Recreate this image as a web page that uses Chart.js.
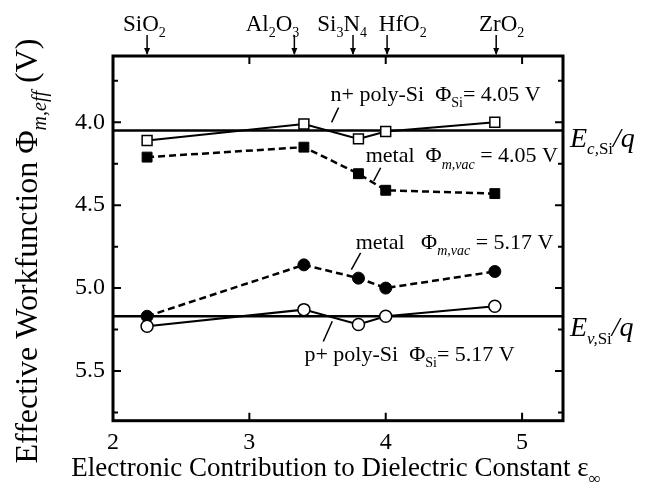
<!DOCTYPE html>
<html>
<head>
<meta charset="utf-8">
<script src="https://cdn.jsdelivr.net/npm/chart.js@4.4.1/dist/chart.umd.min.js"></script>
<style>
  html, body { margin: 0; padding: 0; background: #fff; }
  #wrap { width: 649px; height: 486px; }
</style>
</head>
<body>
<div id="wrap"><canvas id="chart"></canvas></div>
<script>
// dielectric constant (electronic part) of each oxide
const eps = [2.25, 3.4, 3.8, 4.0, 4.8];
// effective workfunctions (V)
const nPoly = [4.11, 4.01, 4.10, 4.055, 4.00];
const metalN = [4.21, 4.15, 4.31, 4.41, 4.43];
const metalP = [5.17, 4.86, 4.94, 5.00, 4.90];
const pPoly = [5.23, 5.13, 5.22, 5.17, 5.11];
const ecLevel = 4.05;
const evLevel = 5.17;
const oxides = ['SiO_2', 'Al_2O_3', 'Si_3N_4', 'HfO_2', 'ZrO_2'];
const oxideArrowX = [2.25, 3.33, 3.76, 4.01, 4.81];
const oxideLabelX = [2.23, 3.17, 3.68, 4.125, 4.85];
const xTicks = [2, 3, 4, 5];
const yTicks = [4.0, 4.5, 5.0, 5.5];
const yMinor = [3.75, 4.25, 4.75, 5.25, 5.75];

const SERIF = "'Liberation Serif', 'DejaVu Serif', serif";

function pts(ys) {
    return eps.map((x, i) => ({ x: x, y: ys[i] }));
}

// draw text made of parts: {t, sub, it}
function rich(ctx, parts, x, y, size, align) {
    const subSize = Math.round(size * 0.62);
    const fontOf = p => (p.it ? 'italic ' : '') + (p.sub ? subSize : size) + 'px ' + SERIF;
    let w = 0;
    parts.forEach(p => { ctx.font = fontOf(p); w += ctx.measureText(p.t).width; });
    let cx = align === 'center' ? x - w / 2 : (align === 'right' ? x - w : x);
    ctx.textAlign = 'left';
    ctx.textBaseline = 'alphabetic';
    parts.forEach(p => {
        ctx.font = fontOf(p);
        ctx.fillText(p.t, cx, p.sub ? y + size * 0.28 : y);
        cx += ctx.measureText(p.t).width;
    });
    return w;
}

function formula(s) {
    const parts = [];
    s.split(/_(\d)/).forEach((t, i) => { if (t) parts.push({ t: t, sub: i % 2 === 1 }); });
    return parts;
}

const decor = {
    id: 'decor',
    afterDraw(chart) {
        const ctx = chart.ctx;
        const a = chart.chartArea;
        const xs = chart.scales.x, ys = chart.scales.y;
        const px = v => xs.getPixelForValue(v);
        const py = v => ys.getPixelForValue(v);
        ctx.save();
        ctx.strokeStyle = '#000';
        ctx.fillStyle = '#000';

        // frame
        ctx.lineWidth = 3;
        ctx.strokeRect(a.left, a.top, a.right - a.left, a.bottom - a.top);

        // inward ticks
        ctx.lineWidth = 2;
        ctx.beginPath();
        xTicks.forEach(v => {
            ctx.moveTo(px(v), a.bottom); ctx.lineTo(px(v), a.bottom - 8);
            ctx.moveTo(px(v), a.top); ctx.lineTo(px(v), a.top + 8);
        });
        yTicks.forEach(v => {
            ctx.moveTo(a.left, py(v)); ctx.lineTo(a.left + 8, py(v));
            ctx.moveTo(a.right, py(v)); ctx.lineTo(a.right - 8, py(v));
        });
        yMinor.forEach(v => {
            ctx.moveTo(a.left, py(v)); ctx.lineTo(a.left + 5, py(v));
            ctx.moveTo(a.right, py(v)); ctx.lineTo(a.right - 5, py(v));
        });
        ctx.stroke();

        // oxide labels with arrows on top
        oxides.forEach((name, i) => {
            rich(ctx, formula(name), px(oxideLabelX[i]), 31, 23, 'center');
            const x = px(oxideArrowX[i]);
            ctx.lineWidth = 1.5;
            ctx.beginPath();
            ctx.moveTo(x, 35); ctx.lineTo(x, a.top - 2);
            ctx.stroke();
            ctx.beginPath();
            ctx.moveTo(x - 3, a.top - 8); ctx.lineTo(x + 3, a.top - 8); ctx.lineTo(x, a.top - 1);
            ctx.closePath();
            ctx.fill();
        });

        // annotations
        const notes = [
            { at: [3.595, 3.87], parts: [{ t: 'n+ poly-Si  Φ' }, { t: 'Si', sub: true }, { t: '= 4.05 V' }], lead: [3.654, 3.911, 3.603, 4.0] },
            { at: [3.853, 4.242], parts: [{ t: 'metal  Φ' }, { t: 'm,vac', sub: true, it: true }, { t: ' = 4.05 V' }], lead: [3.963, 4.274, 3.912, 4.353] },
            { at: [3.78, 4.765], parts: [{ t: 'metal   Φ' }, { t: 'm,vac', sub: true, it: true }, { t: ' = 5.17 V' }], lead: [3.816, 4.788, 3.748, 4.888] },
            { at: [3.404, 5.438], parts: [{ t: 'p+ poly-Si  Φ' }, { t: 'Si', sub: true }, { t: '= 5.17 V' }], lead: [3.608, 5.2, 3.542, 5.322] }
        ];
        notes.forEach(n => {
            rich(ctx, n.parts, px(n.at[0]), py(n.at[1]), 22, 'left');
            ctx.lineWidth = 1.5;
            ctx.beginPath();
            ctx.moveTo(px(n.lead[0]), py(n.lead[1]));
            ctx.lineTo(px(n.lead[2]), py(n.lead[3]));
            ctx.stroke();
        });

        // band edge labels
        rich(ctx, [{ t: 'E', it: true }, { t: 'c,', sub: true, it: true }, { t: 'Si', sub: true }, { t: '/', it: true }, { t: 'q', it: true }], a.right + 7, py(ecLevel) + 16, 28, 'left');
        rich(ctx, [{ t: 'E', it: true }, { t: 'v,', sub: true, it: true }, { t: 'Si', sub: true }, { t: '/', it: true }, { t: 'q', it: true }], a.right + 7, py(evLevel) + 20, 28, 'left');

        // axis titles
        rich(ctx, [{ t: 'Electronic Contribution to Dielectric Constant ε' }, { t: '∞', sub: true }], 336, 476, 27, 'center');
        ctx.save();
        ctx.translate(37, 251);
        ctx.rotate(-Math.PI / 2);
        rich(ctx, [{ t: 'Effective Workfunction Φ' }, { t: 'm,eff', sub: true, it: true }, { t: ' (V)' }], 0, 0, 32, 'center');
        ctx.restore();

        ctx.restore();
    }
};

const tickFont = { family: SERIF, size: 24 };

new Chart(document.getElementById('chart'), {
    type: 'scatter',
    data: {
        datasets: [
            {
                label: 'n+ poly-Si', data: pts(nPoly), showLine: true,
                borderColor: '#000', borderWidth: 2, pointStyle: 'rect', pointRadius: 7,
                pointBackgroundColor: '#fff', pointBorderColor: '#000', pointBorderWidth: 1.5, order: 1
            },
            {
                label: 'metal 4.05', data: pts(metalN), showLine: true, borderDash: [7, 4],
                borderColor: '#000', borderWidth: 2.5, pointStyle: 'rect', pointRadius: 7,
                pointBackgroundColor: '#000', pointBorderColor: '#000', pointBorderWidth: 1, order: 2
            },
            {
                label: 'metal 5.17', data: pts(metalP), showLine: true, borderDash: [7, 4],
                borderColor: '#000', borderWidth: 2.5, pointStyle: 'circle', pointRadius: 6,
                pointBackgroundColor: '#000', pointBorderColor: '#000', pointBorderWidth: 1, order: 3
            },
            {
                label: 'p+ poly-Si', data: pts(pPoly), showLine: true,
                borderColor: '#000', borderWidth: 2, pointStyle: 'circle', pointRadius: 6,
                pointBackgroundColor: '#fff', pointBorderColor: '#000', pointBorderWidth: 1.5, order: 0
            },
            {
                label: 'Ec', data: [{ x: 2, y: ecLevel }, { x: 5.3, y: ecLevel }], showLine: true,
                borderColor: '#000', borderWidth: 2.5, pointRadius: 0, order: 10
            },
            {
                label: 'Ev', data: [{ x: 2, y: evLevel }, { x: 5.3, y: evLevel }], showLine: true,
                borderColor: '#000', borderWidth: 2.5, pointRadius: 0, order: 10
            }
        ]
    },
    options: {
        responsive: true,
        maintainAspectRatio: false,
        animation: false,
        layout: { padding: { top: 56, right: 86, left: 0, bottom: 0 } },
        plugins: { legend: { display: false }, tooltip: { enabled: false } },
        scales: {
            x: {
                type: 'linear', min: 2, max: 5.3,
                grid: { display: false, drawTicks: false },
                border: { display: false },
                ticks: { font: tickFont, color: '#000', padding: 8, maxRotation: 0 },
                afterBuildTicks: s => { s.ticks = xTicks.map(v => ({ value: v })); },
                afterFit: s => { s.height = 65.3; }
            },
            y: {
                type: 'linear', min: 3.6, max: 5.8, reverse: true,
                grid: { display: false, drawTicks: false },
                border: { display: false },
                ticks: { font: tickFont, color: '#000', padding: 8, callback: v => v.toFixed(1) },
                afterBuildTicks: s => { s.ticks = yTicks.map(v => ({ value: v })); },
                afterFit: s => { s.width = 113; }
            }
        }
    },
    plugins: [decor]
});
</script>
</body>
</html>
